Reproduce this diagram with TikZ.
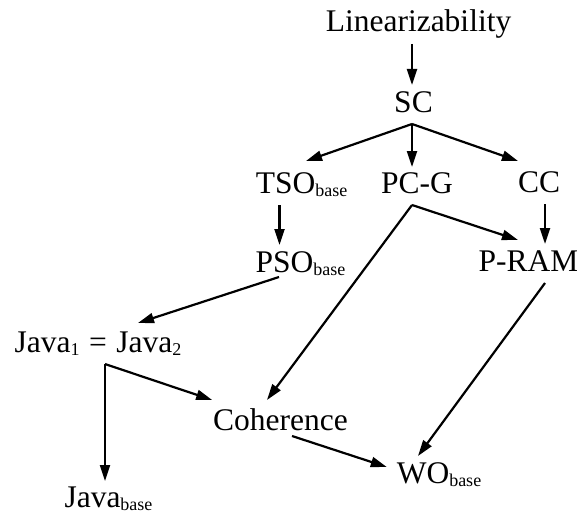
\documentclass[tikz,border=0pt]{standalone}
\usepackage{fontspec}
\setmainfont{Liberation Serif}
\usetikzlibrary{arrows.meta}
% lowered, smaller subscript text
\newcommand\subtxt[1]{\raisebox{-3.5pt}{\fontsize{18}{18}\selectfont #1}}
\begin{document}
\begin{tikzpicture}[x=1pt,y=-1pt,
  lbl/.style={inner sep=0pt, outer sep=0pt, text height=27pt, text depth=12pt,
              anchor=base, font=\fontsize{31.5}{36}\selectfont},
  arr/.style={-{Triangle[length=16pt,width=10pt]}, line width=2.2pt}]
\useasboundingbox[fill=white] (0,0) rectangle (577,516);

% models
\node[lbl] (lin)    at (418.5,32)  {Linearizability};
\node[lbl] (sc)     at (413.5,112) {SC};
\node[lbl] (tso)    at (301.5,193) {TSO\subtxt{base}};
\node[lbl] (pcg)    at (417,193)   {PC-G};
\node[lbl] (cc)     at (539,192)   {CC};
\node[lbl] (pso)    at (300.5,272) {PSO\subtxt{base}};
\node[lbl] (pram)   at (528.5,271) {P-RAM};
\node[lbl] (java12) at (98,352)    {Java\subtxt{1}\hspace{0.3em}=\hspace{0.3em}Java\subtxt{2}};
\node[lbl] (coh)    at (280.5,430) {Coherence};
\node[lbl] (wo)     at (439,483)   {WO\subtxt{base}};
\node[lbl] (javab)  at (108.5,507) {Java\subtxt{base}};

% branching points
\coordinate (scfork)  at ([xshift=-1.5pt]sc.south);
\coordinate (pcgfork) at ([xshift=-5pt]pcg.south);
\coordinate (jfork)   at ([xshift=7pt]java12.south);

% edges
\draw[arr] (scfork |- lin.south) -- (scfork |- sc.north);
\draw[arr] (scfork) -- ([xshift=4.5pt,yshift=5pt]tso.north);
\draw[arr] (scfork) -- ([yshift=-1pt]scfork |- pcg.north);
\draw[arr] (scfork) -- ([yshift=4pt]cc.north west);
\draw[arr] ([xshift=-22pt]tso.south) -- ([xshift=-22pt]tso.south |- pso.north);
\draw[arr] (pcgfork) -- ([xshift=-10.5pt,yshift=4pt]pram.north);
\draw[arr] (pcgfork) -- ([xshift=-13.5pt,yshift=3pt]coh.north);
\draw[arr] ([xshift=6pt]cc.south) -- ([xshift=6pt]cc.south |- pram.north);
\draw[arr] ([xshift=-21.5pt,yshift=7pt]pso.south) -- ([xshift=40pt,yshift=2pt]java12.north);
\draw[arr] (jfork) -- ([xshift=-1pt,yshift=3pt]coh.north west);
\draw[arr] (jfork) -- ([yshift=-1pt]jfork |- javab.north);
\draw[arr] ([xshift=16.5pt]pram.south) -- ([xshift=-21pt]wo.north);
\draw[arr] ([xshift=11.5pt,yshift=6pt]coh.south) -- ([xshift=-10pt,yshift=-11pt]wo.north west);
\end{tikzpicture}
\end{document}
